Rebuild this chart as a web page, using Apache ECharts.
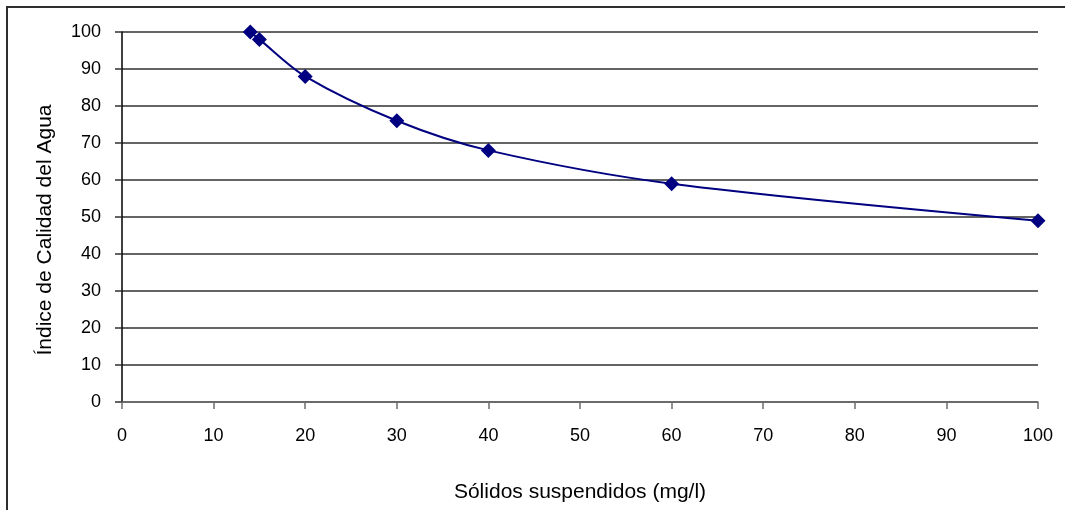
<!DOCTYPE html>
<html>
<head>
<meta charset="utf-8">
<script src="https://cdn.jsdelivr.net/npm/echarts@6/dist/echarts.min.js"></script>
<style>
  html, body { margin: 0; padding: 0; background: #ffffff; overflow: hidden; }
  #wrap { position: relative; width: 1065px; height: 510px; overflow: hidden; background: #fff; }
  #frame { position: absolute; left: 6px; top: 6px; width: 2000px; height: 2000px; border: 2px solid #2e2e2e; box-sizing: border-box; }
  #chart { position: absolute; left: 0; top: 0; width: 1065px; height: 510px; }
</style>
</head>
<body>
<div id="wrap">
  <div id="frame"></div>
  <div id="chart"></div>
</div>
<script>
const xValues = [14, 15, 20, 30, 40, 60, 100];
const yValues = [100, 98, 88, 76, 68, 59, 49];
const xTitle = 'Sólidos suspendidos (mg/l)';
const yTitle = 'Índice de Calidad del Agua';

const points = xValues.map((x, i) => [x, yValues[i]]);
const tickFont = "'Liberation Sans', Arial, sans-serif";
const titleFont = "'Liberation Sans', Arial, sans-serif";

const chart = echarts.init(document.getElementById('chart'), null, { renderer: 'canvas' });
chart.setOption({
  backgroundColor: 'transparent',
  animation: false,
  grid: { left: 122, right: 27, top: 32, bottom: 108 },
  xAxis: {
    type: 'value', min: 0, max: 100, interval: 10,
    name: xTitle, nameLocation: 'middle', nameGap: 80,
    nameTextStyle: { fontFamily: titleFont, fontSize: 21, color: '#000' },
    axisLine: { show: true, lineStyle: { color: '#6e6e6e', width: 1.5 } },
    axisTick: { show: true, length: 7, lineStyle: { color: '#6e6e6e', width: 1.5 } },
    axisLabel: { fontFamily: tickFont, fontSize: 18, color: '#000', margin: 25 },
    splitLine: { show: false }
  },
  yAxis: {
    type: 'value', min: 0, max: 100, interval: 10,
    name: yTitle, nameLocation: 'middle', nameGap: 66, nameRotate: 90,
    nameTextStyle: { fontFamily: titleFont, fontSize: 21, color: '#000', padding: [0, 26, 0, 0] },
    axisLine: { show: true, onZero: false, lineStyle: { color: '#000', width: 1.5 } },
    axisTick: { show: true, length: 7, lineStyle: { color: '#303030', width: 1.5 } },
    axisLabel: { fontFamily: tickFont, fontSize: 18, color: '#000', margin: 21, padding: [0, 0, 3, 0] },
    splitLine: { show: true, lineStyle: { color: '#303030', width: 1.5 } }
  },
  series: [{
    type: 'line',
    data: points,
    smooth: 0.3,
    symbol: 'diamond',
    symbolSize: 15,
    itemStyle: { color: '#000080' },
    lineStyle: { color: '#000080', width: 2 }
  }]
});
</script>
</body>
</html>
